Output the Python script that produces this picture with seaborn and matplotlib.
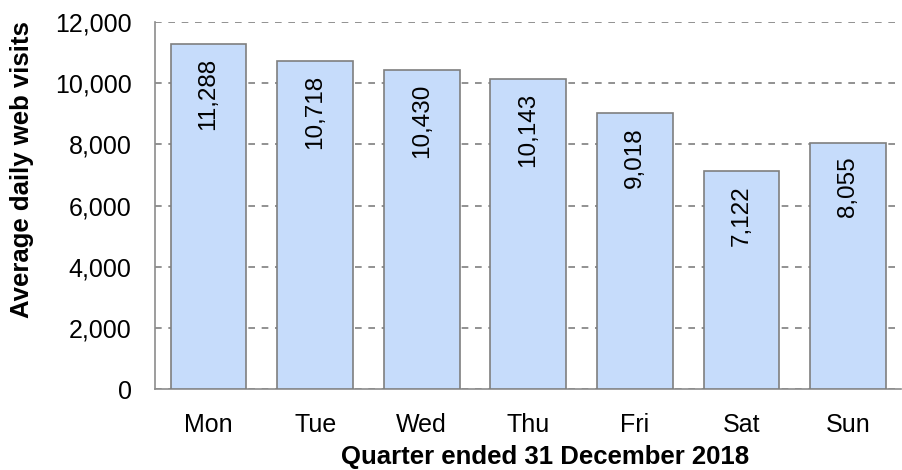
import numpy as np
import pandas as pd
import seaborn as sns
import matplotlib.pyplot as plt
from matplotlib.ticker import FuncFormatter, FixedLocator

# data
days = ['Mon', 'Tue', 'Wed', 'Thu', 'Fri', 'Sat', 'Sun']
visits = [11288, 10718, 10430, 10143, 9018, 7122, 8055]

df = pd.DataFrame({'day': days, 'visits': visits})

sns.set_style('white')
plt.rcParams['font.family'] = ['Liberation Sans', 'DejaVu Sans']
plt.rcParams['text.color'] = 'black'
plt.rcParams['xtick.color'] = 'black'
plt.rcParams['ytick.color'] = 'black'
plt.rcParams['axes.labelcolor'] = 'black'

fig = plt.figure(figsize=(9.03, 4.70), dpi=100)
ax = fig.add_axes([0.172, 0.172, 0.826, 0.781])

sns.barplot(data=df, x='day', y='visits', color='#C6DCFB', saturation=1,
            edgecolor='#7f7f7f', linewidth=1.2, width=0.71, ax=ax, zorder=3)

ax.set_ylim(0, 12000)
ax.set_xlim(-0.5, 6.5)
ax.set_yticks(np.arange(0, 12001, 2000))
ax.yaxis.set_major_formatter(FuncFormatter(lambda v, p: f'{int(v):,}'))
ax.yaxis.grid(True, linestyle=(0, (4, 4)), color='#7f7f7f', linewidth=1.2, zorder=0)
ax.set_axisbelow(True)

for s in ['top', 'right']:
    ax.spines[s].set_visible(False)
for s in ['left', 'bottom']:
    ax.spines[s].set_color('#8c8c8c')
    ax.spines[s].set_linewidth(1.2)

# y ticks cross the axis, x ticks sit between categories
ax.tick_params(axis='y', direction='inout', length=10, width=1.2, color='#8c8c8c',
               labelcolor='black', labelsize=18, pad=12)
ax.tick_params(axis='x', which='major', length=0, labelcolor='black', labelsize=18, pad=17.5)
ax.xaxis.set_minor_locator(FixedLocator(np.arange(-0.5, 7, 1)))
ax.tick_params(axis='x', which='minor', direction='out', length=6, width=1.2, color='#8c8c8c')

for i, v in enumerate(visits):
    ax.annotate(f'{v:,}', xy=(i, v), xytext=(0, -10), textcoords='offset points',
                rotation=90, ha='center', va='top', fontsize=17.5, color='black', zorder=4)

ax.set_xlabel('Quarter ended 31 December 2018', fontsize=18.5, fontweight='bold', color='black')
ax.set_ylabel('Average daily web visits', fontsize=18.5, fontweight='bold', color='black')
ax.xaxis.set_label_coords(0.523, -0.152)
ax.yaxis.set_label_coords(-0.162, 0.597)

fig.savefig('out.png', dpi=100)
